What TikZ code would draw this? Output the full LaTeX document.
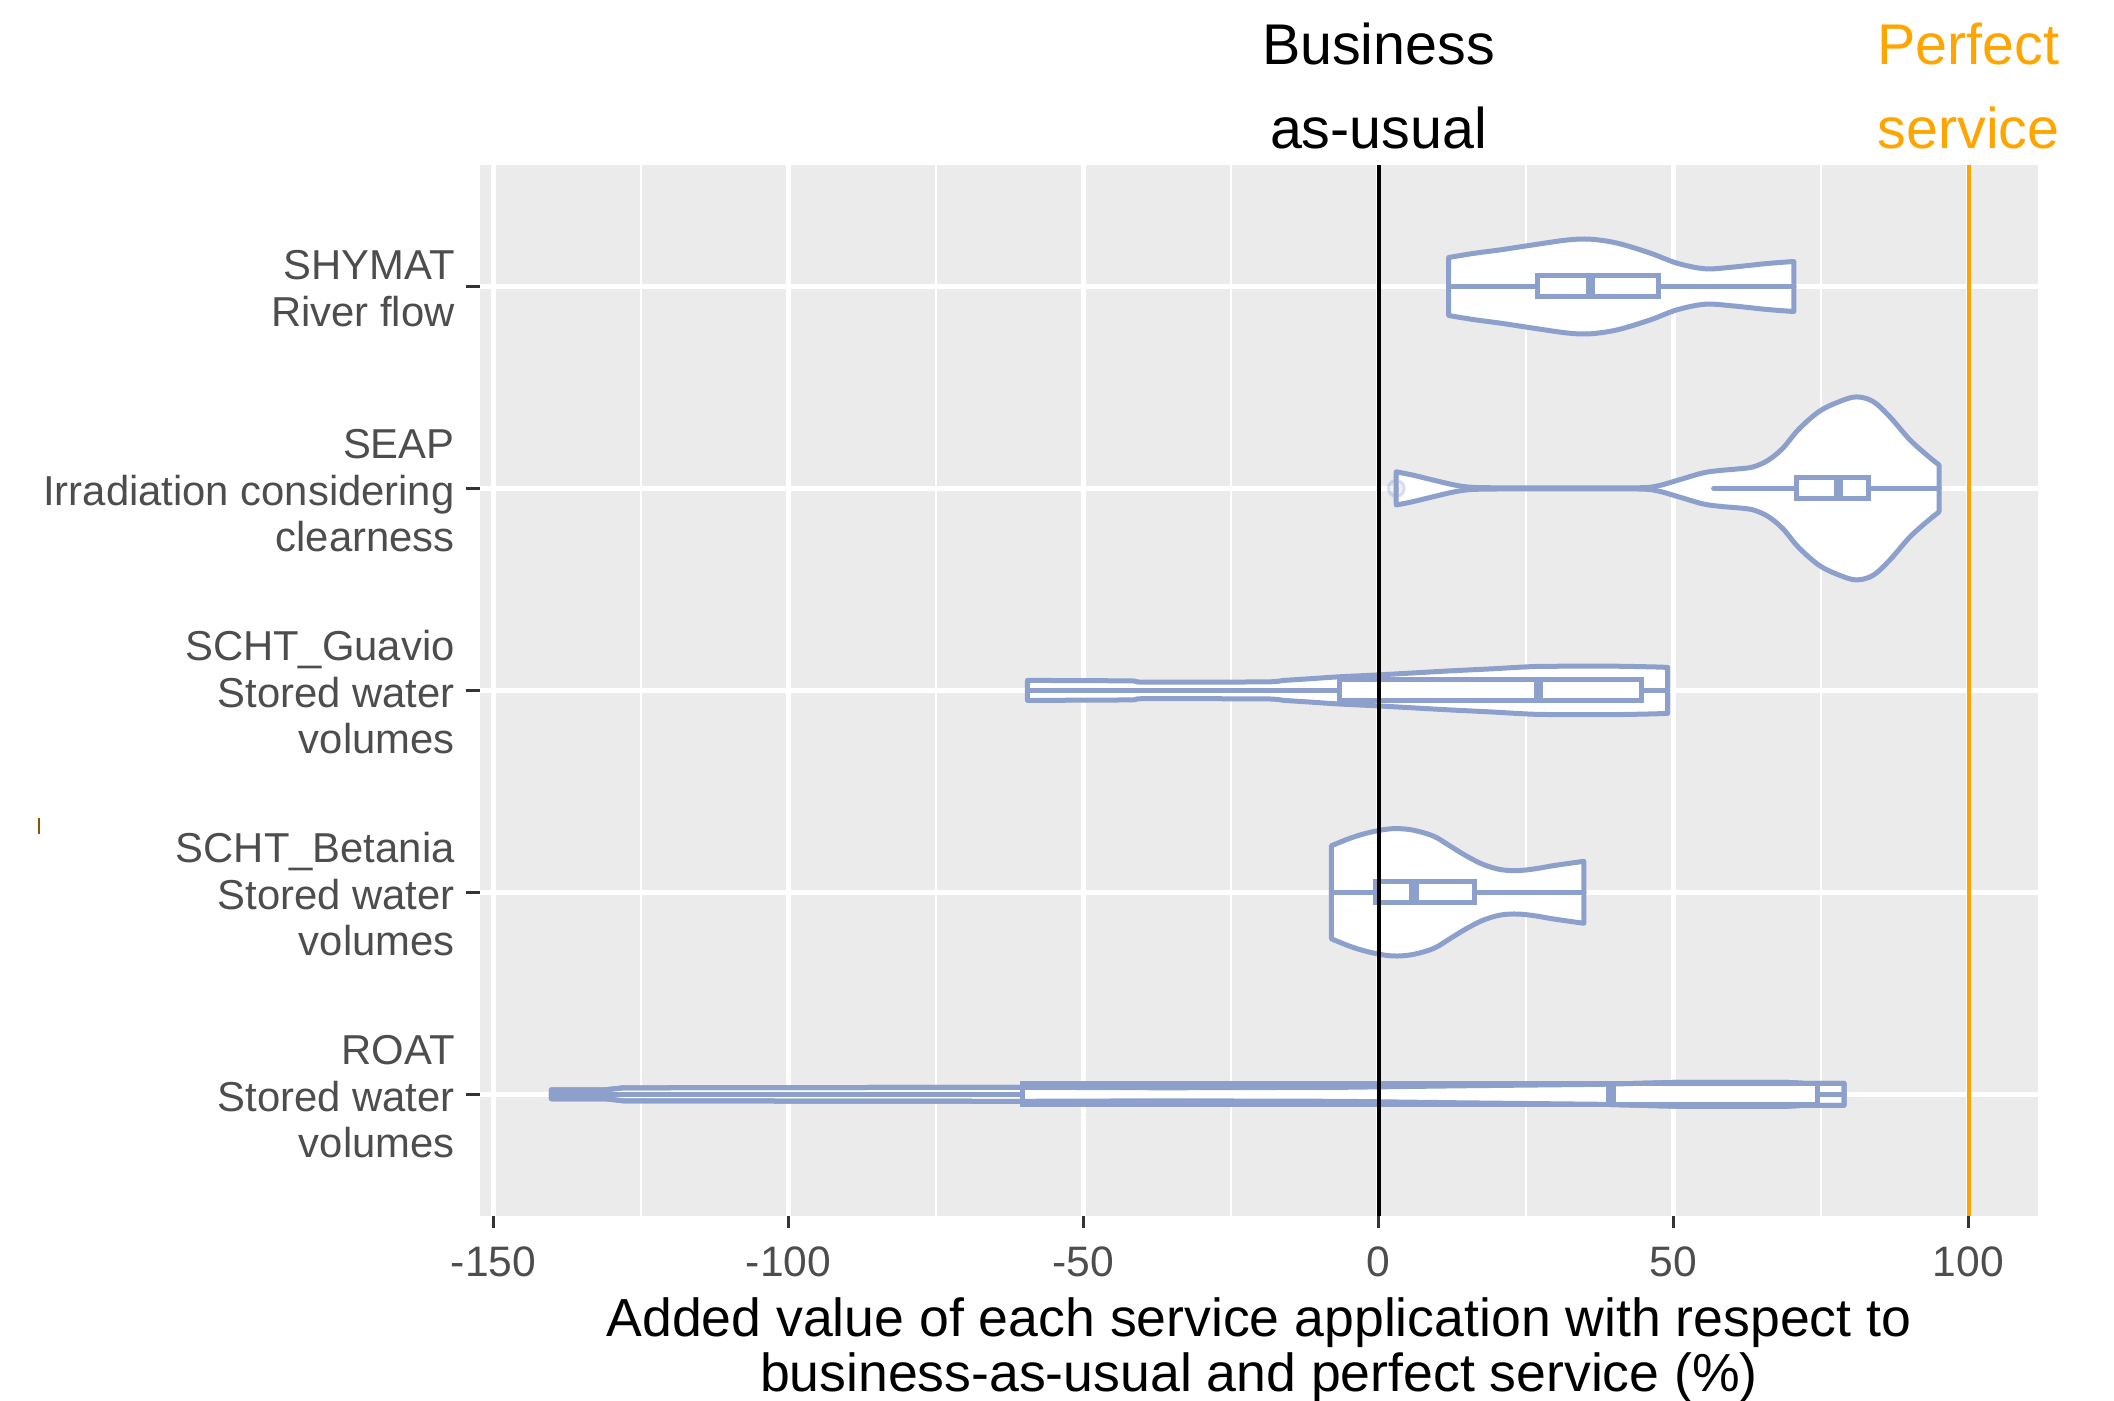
\documentclass[tikz,border=0pt]{standalone}
\usepackage{fontspec}
\setmainfont{Liberation Sans}
\definecolor{vcol}{HTML}{8DA0CB}
\definecolor{panelbg}{HTML}{EBEBEB}
\definecolor{axtext}{HTML}{4D4D4D}
\definecolor{axtick}{HTML}{333333}
\definecolor{perfect}{HTML}{FFA500}
\tikzset{
  vstroke/.style={draw=vcol, line width=2.5pt, line join=round, line cap=round},
  majorgrid/.style={draw=white, line width=2.2pt},
  minorgrid/.style={draw=white, line width=1.2pt},
  tickline/.style={draw=axtick, line width=1.8pt},
  refline/.style={line width=2pt},
  ylab/.style={anchor=base east, text=axtext, inner sep=0pt, font=\fontsize{20.9}{25}\selectfont},
  xlab/.style={anchor=base, text=axtext, inner sep=0pt, font=\fontsize{21.3}{25}\selectfont},
  toplab/.style={anchor=base, inner sep=0pt, font=\fontsize{28.7}{34}\selectfont},
  xtitle/.style={anchor=base, inner sep=0pt, font=\fontsize{26.8}{32}\selectfont},
}
% violin helpers: #2 = y centre (px), #3/#4 = end values, #5 = upper profile (value, half width px)
\newcommand\violinfill[5][smooth,tension=0.55]{%
  \begin{scope}[shift={(1378.5,#2)}, x=2.95pt]
    \fill[white] (#3,0) -- plot[#1] coordinates {#5} -- (#4,0) -- cycle;
    \fill[white,yscale=-1] (#3,0) -- plot[#1] coordinates {#5} -- (#4,0) -- cycle;
  \end{scope}}
\newcommand\violinedge[5][smooth,tension=0.55]{%
  \begin{scope}[shift={(1378.5,#2)}, x=2.95pt]
    \draw[vstroke] (#3,0) -- plot[#1] coordinates {#5} -- (#4,0);
    \draw[vstroke,yscale=-1] (#3,0) -- plot[#1] coordinates {#5} -- (#4,0);
  \end{scope}}
% box: #1 y centre, #2 low, #3 q1, #4 median, #5 q3, #6 high
\newcommand\boxwhisk[6]{%
  \begin{scope}[shift={(1378.5,#1)}, x=2.95pt]
    \draw[vstroke] (#2,0) -- (#3,0);
    \draw[vstroke] (#5,0) -- (#6,0);
    \filldraw[fill=white, vstroke, line cap=butt, line join=miter] (#3,-10.5) rectangle (#5,10.5);
    \draw[vstroke, line width=4.6pt, line cap=butt] (#4,-10.5) -- (#4,10.5);
  \end{scope}}
\begin{document}
\begin{tikzpicture}[x=0.5pt, y=-0.5pt]
\useasboundingbox (0,0) rectangle (2114,1401);
\fill[white] (0,0) rectangle (2114,1401);
% panel
\fill[panelbg] (480,165.3) rectangle (2038,1215.5);
\begin{scope}[shift={(1378.5,0)}, x=2.95pt]
  \foreach \d in {-125,-75,-25,25,75} \draw[minorgrid] (\d,165.3) -- (\d,1215.5);
  \foreach \d in {-150,-100,-50,0,50,100} \draw[majorgrid] (\d,165.3) -- (\d,1215.5);
  \foreach \d in {-150,-100,-50,0,50,100} \draw[tickline] (\d,1215.5) -- (\d,1228);
\end{scope}
\foreach \yy in {286.5,488.4,690.4,892.3,1094.3} {
  \draw[majorgrid] (480,\yy) -- (2038,\yy);
  \draw[tickline] (466,\yy) -- (480,\yy);
}
% SHYMAT
\violinfill{286.5}{11.9}{70.4}{(11.9,29) (16,33) (20.7,36.7) (26.3,41.7) (32,46.5) (35.9,47.3) (40.5,43.3) (46.1,33.3) (50.6,23.3) (55.4,17.7) (60.2,19.5) (65.9,23) (70.4,25)}
\violinedge{286.5}{11.9}{70.4}{(11.9,29) (16,33) (20.7,36.7) (26.3,41.7) (32,46.5) (35.9,47.3) (40.5,43.3) (46.1,33.3) (50.6,23.3) (55.4,17.7) (60.2,19.5) (65.9,23) (70.4,25)}
\boxwhisk{286.5}{11.9}{26.9}{35.9}{47.5}{70.4}
% SEAP
\violinfill{488.4}{3.0}{95}{(3.0,16.6) (5.8,13.3) (9.3,8.3) (12.8,3.5) (15.6,1.2) (20,0.6) (32,0.5) (44,0.6) (47.3,2.5) (50.8,8.3) (55,15.5) (58,18) (61,19.5) (63.5,21.5) (66,28) (68.5,40) (71.2,59) (74.7,77) (78.2,87) (81,91.5) (83.8,87) (86.6,72) (90,49) (93,33) (95,23.5)}
\violinedge{488.4}{3.0}{95}{(3.0,16.6) (5.8,13.3) (9.3,8.3) (12.8,3.5) (15.6,1.2) (20,0.6) (32,0.5) (44,0.6) (47.3,2.5) (50.8,8.3) (55,15.5) (58,18) (61,19.5) (63.5,21.5) (66,28) (68.5,40) (71.2,59) (74.7,77) (78.2,87) (81,91.5) (83.8,87) (86.6,72) (90,49) (93,33) (95,23.5)}
\boxwhisk{488.4}{56.8}{70.8}{78.0}{83.1}{95.0}
\begin{scope}[shift={(1378.5,488.4)}, x=2.95pt]
  \draw[draw=vcol, fill=vcol, fill opacity=0.12, draw opacity=0.3, line width=1.5pt] (3.0,0) circle[radius=4pt];
\end{scope}
% SCHT_Guavio
\violinfill[smooth,tension=0.3]{690.4}{-59.5}{49}{(-59.5,10) (-42,9.5) (-40,8.3) (-19,8.5) (-16,10) (-12,11.5) (-7,13.5) (0,15.5) (6,17.5) (12,19.5) (19,21.5) (27,24) (40,24.2) (46.5,23.5) (49,23)}
\violinedge[smooth,tension=0.3]{690.4}{-59.5}{49}{(-59.5,10) (-42,9.5) (-40,8.3) (-19,8.5) (-16,10) (-12,11.5) (-7,13.5) (0,15.5) (6,17.5) (12,19.5) (19,21.5) (27,24) (40,24.2) (46.5,23.5) (49,23)}
\boxwhisk{690.4}{-59.5}{-6.6}{27.1}{44.5}{49}
% SCHT_Betania
\violinfill{892.3}{-8}{34.8}{(-8,46.5) (-4.7,54.3) (-1.9,59.3) (0.9,62.7) (3.2,63.7) (6,62) (9.4,56) (12.2,46) (15,36) (17.8,27.7) (20.7,22.7) (23.5,21.7) (26.3,23.3) (29.7,26.7) (34.8,31)}
\violinedge{892.3}{-8}{34.8}{(-8,46.5) (-4.7,54.3) (-1.9,59.3) (0.9,62.7) (3.2,63.7) (6,62) (9.4,56) (12.2,46) (15,36) (17.8,27.7) (20.7,22.7) (23.5,21.7) (26.3,23.3) (29.7,26.7) (34.8,31)}
\boxwhisk{892.3}{-8.0}{-0.5}{6.0}{16.2}{34.8}
% ROAT
\violinfill[sharp plot]{1094.3}{-140.2}{78.9}{(-140.2,4.5) (-131,4.5) (-128,6.5) (-61,7) (-36,6.5) (-6,7) (14,8.5) (38,10) (51,12) (69,12) (72,11) (78.9,11)}
\violinedge[sharp plot]{1094.3}{-140.2}{78.9}{(-140.2,4.5) (-131,4.5) (-128,6.5) (-61,7) (-36,6.5) (-6,7) (14,8.5) (38,10) (51,12) (69,12) (72,11) (78.9,11)}
\boxwhisk{1094.3}{-140.2}{-60.4}{39.4}{74.4}{78.9}
\violinedge[sharp plot]{1094.3}{-140.2}{78.9}{(-140.2,4.5) (-131,4.5) (-128,6.5) (-61,7) (-36,6.5) (-6,7) (14,8.5) (38,10) (51,12) (69,12) (72,11) (78.9,11)}
% reference lines
\draw[refline, black] (1378.5,165.3) -- (1378.5,1215.5);
\draw[refline, perfect] (1968.5,165.3) -- (1968.5,1215.5);
% top labels
\node[toplab] (bau1) at (1378.5,65) {Business};
\node[toplab] (bau2) at (1378.5,148.3) {as-usual};
\node[toplab, text=perfect] (ps1) at (1968.5,65) {Perfect};
\node[toplab, text=perfect] (ps2) at (1968.5,148.3) {service};
% y labels
\node[ylab] (ya1) at (455,279.8) {SHYMAT};
\node[ylab] (ya2) at (455,326.5) {River flow};
\node[ylab] (yb1) at (455,458.4) {SEAP};
\node[ylab] (yb2) at (455,505.1) {Irradiation considering};
\node[ylab] (yb3) at (455,551.8) {clearness};
\node[ylab] (yc1) at (455,660.4) {SCHT\_Guavio};
\node[ylab] (yc2) at (455,707.1) {Stored water};
\node[ylab] (yc3) at (455,753.8) {volumes};
\node[ylab] (yd1) at (455,862.3) {SCHT\_Betania};
\node[ylab] (yd2) at (455,909) {Stored water};
\node[ylab] (yd3) at (455,955.7) {volumes};
\node[ylab] (ye1) at (455,1064.3) {ROAT};
\node[ylab] (ye2) at (455,1111) {Stored water};
\node[ylab] (ye3) at (455,1157.7) {volumes};
% x tick labels
\foreach \d [count=\i] in {-150,-100,-50,0,50,100}
  \node[xlab] (xtl\i) at ({1378.5+5.9*\d},1276) {\d};
% x title
\node[xtitle] (xt1) at (1259,1336) {Added value of each service application with respect to};
\node[xtitle] (xt2) at (1259,1391) {business-as-usual and perfect service (\%)};
% small stray mark at the left
\draw[line width=1.2pt, color={rgb,255:red,150;green,80;blue,0}] (39,818) -- (39,834);
\end{tikzpicture}
\end{document}
